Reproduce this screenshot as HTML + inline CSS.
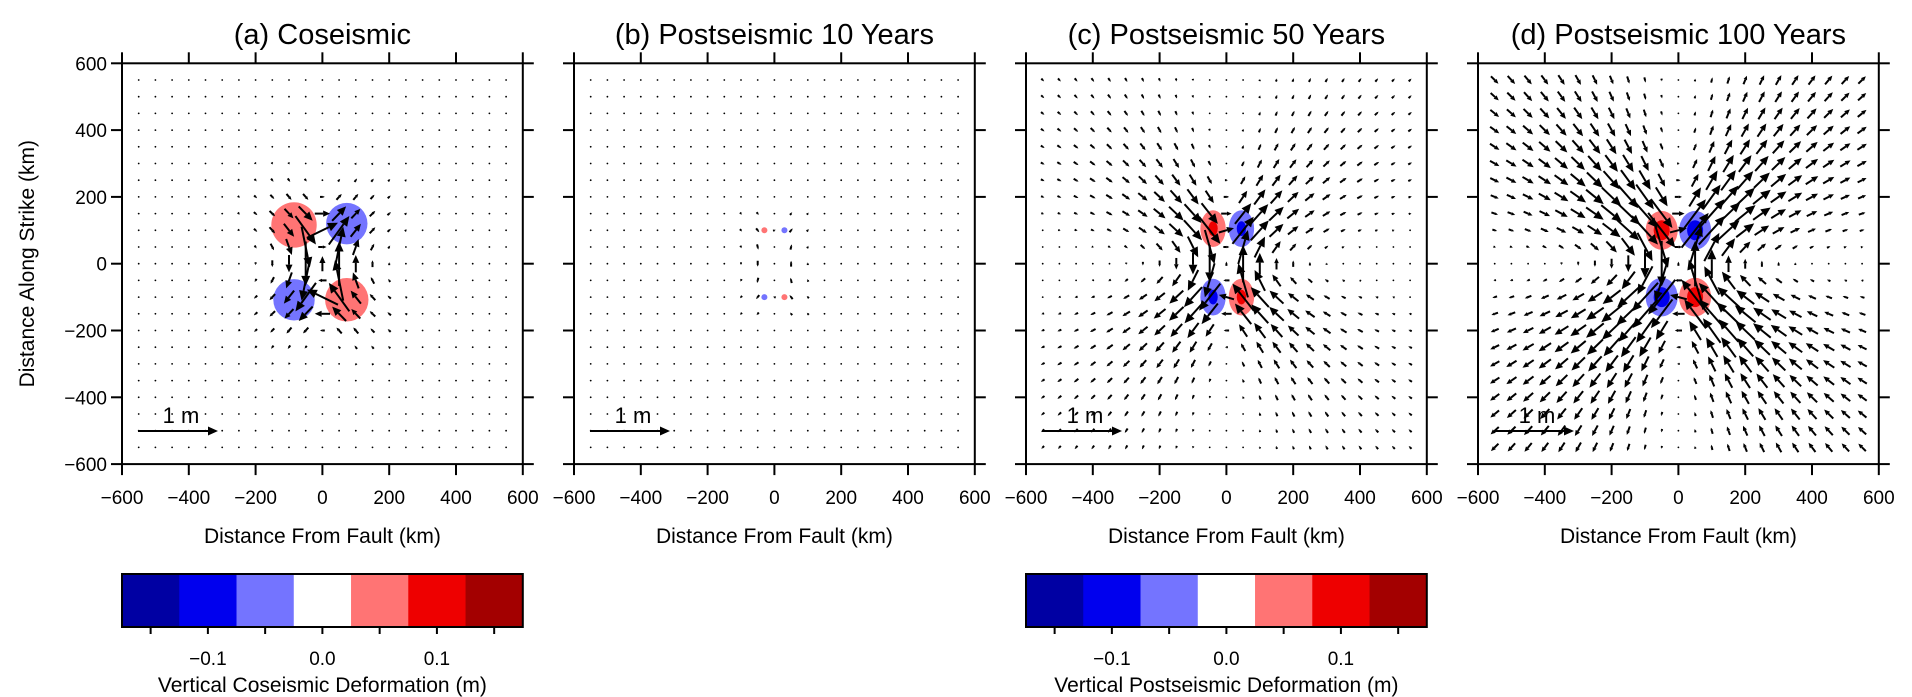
<!DOCTYPE html>
<html><head><meta charset="utf-8"><style>
html,body{margin:0;padding:0;background:#fff;}
svg{display:block;font-family:"Liberation Sans",sans-serif;}
</style></head><body>
<svg id="fig" width="1912" height="697" viewBox="0 0 1912 697" xmlns="http://www.w3.org/2000/svg"></svg>
<script>
// ---- data ----
const panelTitles = ["(a) Coseismic","(b) Postseismic 10 Years","(c) Postseismic 50 Years","(d) Postseismic 100 Years"];
const axisTicks = [-600,-400,-200,0,200,400,600];
const colorbarColors = ["#0000a3","#0000ee","#7474ff","#ffffff","#ff7474","#ee0000","#a30000"];
const colorbarTickValues = [-0.15,-0.1,-0.05,0,0.05,0.1,0.15];
const colorbarLabels = ["\u22120.1","0.0","0.1"];
const colorbarLabelValues = [-0.1,0,0.1];
const colorbarTitles = ["Vertical Coseismic Deformation (m)","Vertical Postseismic Deformation (m)"];
// blobs: [xkm, ykm, rxkm, rykm, colorIndex]
const blobsA = [[-85,116,68,68,4],[73,120,62,62,2],[-85,-108,62,62,2],[73,-108,65,65,4]];
const blobsB = [[-30,100,9,9,4],[30,100,9,9,2],[-30,-100,9,9,2],[30,-100,9,9,4]];
const blobsC = [[-40,105,38,55,4],[45,105,38,55,2],[-40,-100,38,55,2],[45,-100,38,55,4],
                [-40,105,14,22,5],[45,105,14,22,1],[-40,-100,14,22,1],[45,-100,14,22,5]];
const blobsD = [[-50,100,48,58,4],[50,100,48,58,2],[-50,-100,48,58,2],[50,-100,48,58,4],
                [-50,100,24,30,5],[50,100,24,30,1],[-50,-100,24,30,1],[50,-100,24,30,5]];
// field parameters per panel: amplitude (m), core (km), decay power, tangential weight
const fieldAmp = [2.6,0.28,1.2,1.3];
const fieldCore = [60,60,80,80];
const fieldPow = [2.5,1.8,1.4,1.0];
const fieldTang = [0.8,0.5,0.5,0.45];
const refArrowMeters = 1;

// ---- layout ----
const NS="http://www.w3.org/2000/svg";
const svg=document.getElementById('fig');
const panelLeft=[122,574,1026,1478], top0=63.3, size=400.8, kmpx=size/1200, mpx=80;
function el(t,a,p){const e=document.createElementNS(NS,t);for(const k in a)e.setAttribute(k,a[k]);(p||svg).appendChild(e);return e;}
function txt(s,a,p){const e=el('text',a,p);e.textContent=s;return e;}
const blobs=[blobsA,blobsB,blobsC,blobsD];

function field(i,x,y){
  let ux=0,uy=0,n=0;
  for(let ys=-100;ys<=100;ys+=20){
    const dx=x,dy=y-ys,r=Math.hypot(dx,dy)+1e-6,ph=Math.atan2(dy,dx);
    const g=fieldAmp[i]*Math.pow(fieldCore[i]/Math.sqrt(r*r+fieldCore[i]*fieldCore[i]),fieldPow[i]);
    const ur=Math.sin(2*ph)*g, ut=Math.cos(2*ph)*g*fieldTang[i]*Math.exp(-r/180);
    ux+=ur*Math.cos(ph)-ut*Math.sin(ph); uy+=ur*Math.sin(ph)+ut*Math.cos(ph); n++;
  }
  return [ux/n,uy/n];
}
function arrow(g,x1,y1,x2,y2,w){
  const L=Math.hypot(x2-x1,y2-y1);
  if(L<2.2){const d=el('circle',{cx:(x1+x2)/2,cy:(y1+y2)/2,r:0.9,fill:'#000'},g);
    
    return;}
  const ux=(x2-x1)/L,uy=(y2-y1)/L,h=Math.min(0.45*L,10),hw=h*0.45;
  const bx=x2-ux*h,by=y2-uy*h;
  el('line',{x1:x1,y1:y1,x2:bx,y2:by,stroke:'#000','stroke-width':w},g);
  el('polygon',{points:`${x2},${y2} ${bx-uy*hw},${by+ux*hw} ${bx+uy*hw},${by-ux*hw}`,fill:'#000'},g);
}

for(let i=0;i<4;i++){
  const L=panelLeft[i];
  const X=k=>L+(k+600)*kmpx, Y=k=>top0+(600-k)*kmpx;
  const pg=el('g',{});
  
  
  const t=txt(panelTitles[i],{x:L+size/2,y:44,'font-size':29,'text-anchor':'middle'},pg);
  
  
  blobs[i].forEach(b=>{
    const e=el('ellipse',{cx:X(b[0]),cy:Y(b[1]),rx:b[2]*kmpx,ry:b[3]*kmpx,fill:colorbarColors[b[4]]},pg);
    
    
  });
  const vg=el('g',{},pg);
  
  
  for(let gx=-550;gx<=550;gx+=50)for(let gy=-550;gy<=550;gy+=50){
    const u=field(i,gx,gy);let lx=u[0]*mpx,ly=-u[1]*mpx;
    const m=Math.hypot(lx,ly);if(m>75){lx*=75/m;ly*=75/m;}
    const cx=X(gx),cy=Y(gy);
    arrow(vg,cx-lx/2,cy-ly/2,cx+lx/2,cy+ly/2,2);
  }
  const ra=el('g',{},pg);
  
  
  arrow(ra,L+16,431,L+16+refArrowMeters*mpx,431,2);
  txt('1 m',{x:L+59,y:423,'font-size':22,'text-anchor':'middle'},ra);
  const f=el('rect',{x:L,y:top0,width:size,height:size,fill:'none',stroke:'#000','stroke-width':2},pg);
  
  
  axisTicks.forEach(v=>{
    const x=X(v),y=Y(v);
    el('line',{x1:x,y1:top0,x2:x,y2:top0-11,stroke:'#000','stroke-width':2},pg);
    el('line',{x1:x,y1:top0+size,x2:x,y2:top0+size+11,stroke:'#000','stroke-width':2},pg);
    el('line',{x1:L,y1:y,x2:L-11,y2:y,stroke:'#000','stroke-width':2},pg);
    el('line',{x1:L+size,y1:y,x2:L+size+11,y2:y,stroke:'#000','stroke-width':2},pg);
    const xl=txt(String(v).replace('-','\u2212'),{x:x,y:504,'font-size':19,'text-anchor':'middle'},pg);
    
    
    if(i===0){
      const yl=txt(String(v).replace('-','\u2212'),{x:L-15,y:y+7,'font-size':19,'text-anchor':'end'},pg);
      
      
    }
  });
  const xt=txt('Distance From Fault (km)',{x:L+size/2,y:543,'font-size':21,'text-anchor':'middle'},pg);
  
  
  if(i===0){
    const yt=txt('Distance Along Strike (km)',{x:0,y:0,'font-size':21,'text-anchor':'middle',transform:`translate(34,${top0+size/2}) rotate(-90)`},pg);
    
    
  }
}
[[0,122],[1,1026]].forEach(([k,L])=>{
  const g=el('g',{});
  
  
  const w=size/colorbarColors.length, y0=574, h=53;
  const cx=v=>L+size/2+v/0.05*w;
  colorbarColors.forEach((c,j)=>{
    const r=el('rect',{x:L+j*w,y:y0,width:w+0.5,height:h,fill:c},g);
    
    
  });
  el('rect',{x:L,y:y0,width:size,height:h,fill:'none',stroke:'#000','stroke-width':2},g);
  colorbarTickValues.forEach(v=>el('line',{x1:cx(v),y1:y0+h,x2:cx(v),y2:y0+h+7,stroke:'#000','stroke-width':2},g));
  colorbarLabels.forEach((s,j)=>txt(s,{x:cx(colorbarLabelValues[j]),y:665,'font-size':19,'text-anchor':'middle'},g));
  const t=txt(colorbarTitles[k],{x:L+size/2,y:692,'font-size':21,'text-anchor':'middle'},g);
  
  
});
</script>
</body></html>
